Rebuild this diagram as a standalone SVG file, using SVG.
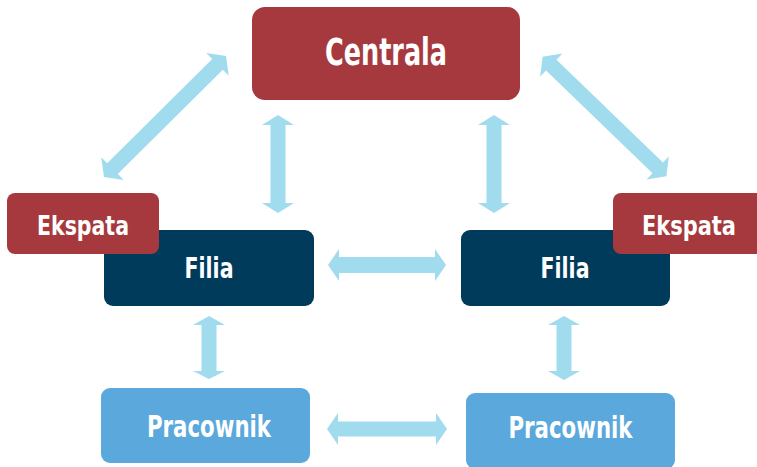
<svg xmlns="http://www.w3.org/2000/svg" width="757" height="467" viewBox="0 0 757 467">
<style>
.arrow{fill:#A0DBEE}
.red{fill:#A6393D}
.navy{fill:#003B5C}
.blue{fill:#5BA8DC}
.t{fill:#fff;font-family:"Liberation Sans Narrow","DejaVu Sans Condensed","DejaVu Sans",sans-serif;font-weight:bold;font-stretch:condensed;text-anchor:middle}
</style>
<rect width="757" height="467" fill="#fff"/>
<g id="connectors">
<path class="arrow" d="M278,115 L294,125 L285.5,125 L285.5,203 L294,203 L278,213 L262,203 L270.5,203 L270.5,125 L262,125 Z"/>
<path class="arrow" d="M494,115 L510,125 L501.5,125 L501.5,203 L510,203 L494,213 L478,203 L486.5,203 L486.5,125 L478,125 Z"/>
<path class="arrow" d="M328,265 L339,249 L339,257 L435,257 L435,249 L446,265 L435,281 L435,273 L339,273 L339,281 Z"/>
<path class="arrow" d="M209,316 L225,325 L216.5,325 L216.5,371 L225,371 L209,379 L193,371 L201.5,371 L201.5,325 L193,325 Z"/>
<path class="arrow" d="M564,316 L580,325 L571.5,325 L571.5,371 L580,371 L564,380 L548,371 L556.5,371 L556.5,325 L548,325 Z"/>
<path class="arrow" d="M327,429 L338,413 L338,421.5 L436,421.5 L436,413 L447,429 L436,445 L436,436.5 L338,436.5 L338,445 Z"/>
<path class="arrow" transform="translate(165,116.5) rotate(-44.8)" d="M-86,0 L-74,-16 L-74,-7.5 L74,-7.5 L74,-16 L86,0 L74,16 L74,7.5 L-74,7.5 L-74,16 Z"/>
<path class="arrow" transform="translate(604.5,116.5) rotate(44)" d="M-86,0 L-74,-16 L-74,-7.5 L74,-7.5 L74,-16 L86,0 L74,16 L74,7.5 L-74,7.5 L-74,16 Z"/>
</g>
<g id="centrala">
<rect class="red" x="252" y="7" width="268" height="93" rx="13"/>
<text class="t" x="386" y="65" font-size="37" textLength="122" lengthAdjust="spacingAndGlyphs">Centrala</text>
</g>
<g id="filia-left">
<rect class="navy" x="104" y="230" width="210" height="76" rx="9"/>
<text class="t" x="209" y="278" font-size="29" textLength="49" lengthAdjust="spacingAndGlyphs">Filia</text>
</g>
<g id="filia-right">
<rect class="navy" x="461" y="230" width="209" height="76" rx="9"/>
<text class="t" x="565" y="278" font-size="29" textLength="49" lengthAdjust="spacingAndGlyphs">Filia</text>
</g>
<g id="ekspata-left">
<rect class="red" x="7" y="193" width="152" height="61" rx="8"/>
<text class="t" x="83" y="235" font-size="27" textLength="92" lengthAdjust="spacingAndGlyphs">Ekspata</text>
</g>
<g id="ekspata-right">
<rect class="red" x="613" y="193" width="152" height="61" rx="8"/>
<text class="t" x="689" y="235" font-size="27" textLength="94" lengthAdjust="spacingAndGlyphs">Ekspata</text>
</g>
<g id="pracownik-left">
<rect class="blue" x="101" y="388" width="209" height="75" rx="9"/>
<text class="t" x="209" y="437" font-size="30" textLength="124" lengthAdjust="spacingAndGlyphs">Pracownik</text>
</g>
<g id="pracownik-right">
<rect class="blue" x="466" y="393" width="209" height="76" rx="9"/>
<text class="t" x="570.5" y="438" font-size="30" textLength="124" lengthAdjust="spacingAndGlyphs">Pracownik</text>
</g>
</svg>
